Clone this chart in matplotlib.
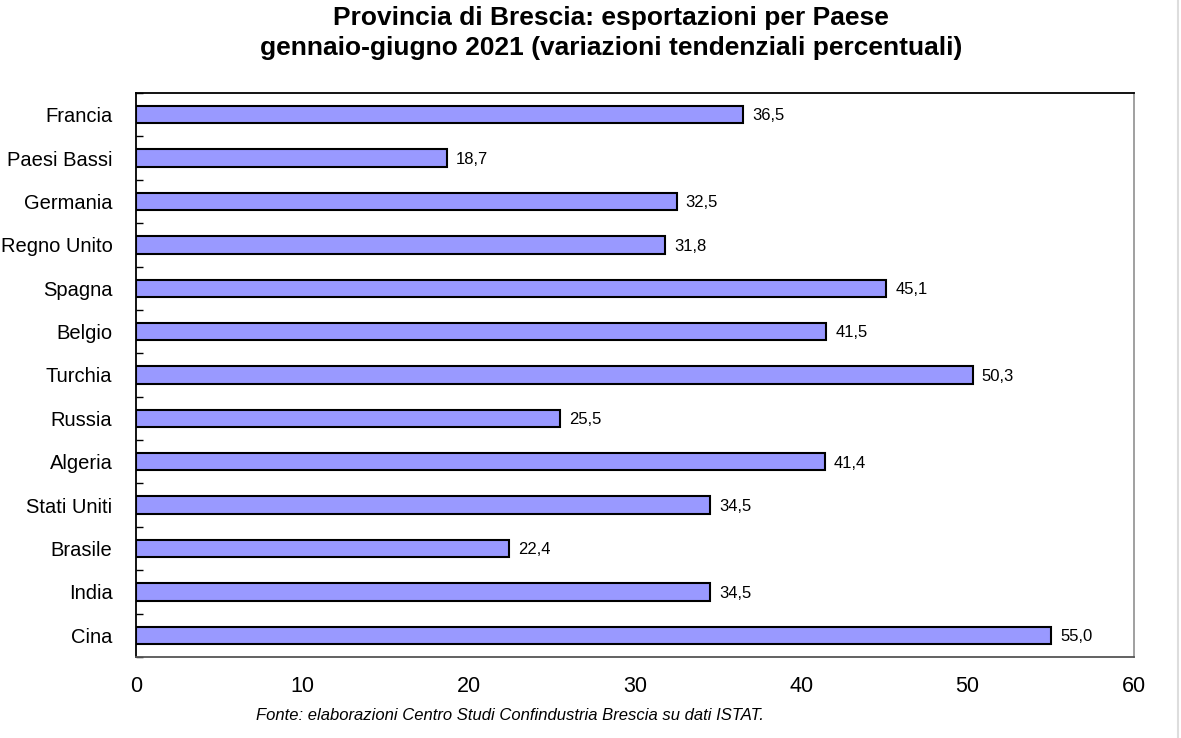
import matplotlib
matplotlib.use("Agg")
import matplotlib.pyplot as plt
import numpy as np

plt.rcParams['font.family'] = ['Liberation Sans', 'DejaVu Sans']

countries = ["Francia", "Paesi Bassi", "Germania", "Regno Unito", "Spagna", "Belgio",
             "Turchia", "Russia", "Algeria", "Stati Uniti", "Brasile", "India", "Cina"]
values = [36.5, 18.7, 32.5, 31.8, 45.1, 41.5, 50.3, 25.5, 41.4, 34.5, 22.4, 34.5, 55.0]
xticks = [0, 10, 20, 30, 40, 50, 60]

fig = plt.figure(figsize=(11.81, 7.38), dpi=100)
ax = fig.add_axes([136/1181, 1 - 657/738, (1134-136)/1181, (657-93)/738])

n = len(countries)
pos = np.arange(n)
ax.barh(pos, values, height=0.4, color="#9999FF", edgecolor="black", linewidth=1.5, zorder=3)
for p, v in zip(pos, values):
    ax.text(v + 0.55, p + 0.03, f"{v:.1f}".replace(".", ","), va="center", ha="left", fontsize=12)

ax.set_xlim(0, 60)
ax.set_ylim(n - 0.5, -0.5)
ax.set_yticks(pos)
ax.set_yticklabels(countries, fontsize=14.5)
ax.set_yticks(np.arange(n + 1) - 0.5, minor=True)
ax.tick_params(axis="y", which="major", length=0, pad=17)
ax.tick_params(axis="y", which="minor", length=5, direction="in", width=1, color="black")
ax.set_xticks(xticks)
ax.set_xticklabels([str(t) for t in xticks], fontsize=15.5)
ax.tick_params(axis="x", length=0, pad=14)

ax.spines["left"].set_color("black")
ax.spines["top"].set_color("black")
ax.spines["right"].set_color("#999999")
ax.spines["bottom"].set_color("#555555")
for s in ax.spines.values():
    s.set_linewidth(1.3)

fig.text(611/1181, 1 - 18/738, "Provincia di Brescia: esportazioni per Paese",
         ha="center", va="center", fontsize=19, fontweight="bold")
fig.text(611/1181, 1 - 48/738, "gennaio-giugno 2021 (variazioni tendenziali percentuali)",
         ha="center", va="center", fontsize=19, fontweight="bold")
fig.text(510/1181, 1 - 716/738, "Fonte: elaborazioni Centro Studi Confindustria Brescia su dati ISTAT.",
         ha="center", va="center", fontsize=12, style="italic")

fig.add_artist(plt.Line2D([1178/1181, 1178/1181], [0, 1], color="#dddddd", linewidth=1.5))

fig.savefig("out.png", dpi=100)
